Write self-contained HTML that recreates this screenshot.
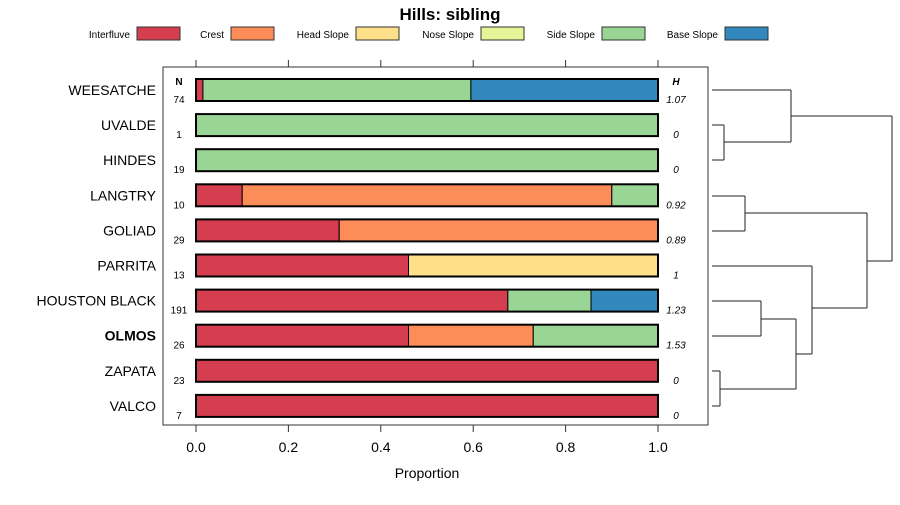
<!DOCTYPE html>
<html><head><meta charset="utf-8"><style>
body{margin:0;background:#fff;font-family:"Liberation Sans",sans-serif}
svg text{font-family:"Liberation Sans",sans-serif}
</style></head><body>
<svg id="c" width="900" height="500" xmlns="http://www.w3.org/2000/svg"></svg>
<script>
const categories=["WEESATCHE","UVALDE","HINDES","LANGTRY","GOLIAD","PARRITA","HOUSTON BLACK","OLMOS","ZAPATA","VALCO"];
const nValues=[74,1,19,10,29,13,191,26,23,7];
const hValues=["1.07","0","0","0.92","0.89","1","1.23","1.53","0","0"];
const seriesNames=["Interfluve","Crest","Head Slope","Nose Slope","Side Slope","Base Slope"];
const colors=["#D53E4F","#FC8D59","#FEE08B","#E6F598","#99D594","#3288BD"];
const interfluve=[0.015,0,0,0.10,0.31,0.46,0.675,0.46,1,1];
const crest=[0,0,0,0.80,0.69,0,0,0.27,0,0];
const headSlope=[0,0,0,0,0,0.54,0,0,0,0];
const noseSlope=[0,0,0,0,0,0,0,0,0,0];
const sideSlope=[0.58,1,1,0.10,0,0,0.18,0.27,0,0];
const baseSlope=[0.405,0,0,0,0,0,0.145,0,0,0];
const xTicks=[0,0.2,0.4,0.6,0.8,1.0];
const xTickLabels=["0.0","0.2","0.4","0.6","0.8","1.0"];
const series=[interfluve,crest,headSlope,noseSlope,sideSlope,baseSlope];
const svg=document.getElementById('c');
const NS="http://www.w3.org/2000/svg";
function el(t,a,txt){const e=document.createElementNS(NS,t);for(const k in a)e.setAttribute(k,a[k]);if(txt!==undefined)e.textContent=txt;svg.appendChild(e);return e;}
const x=v=>196+v*462;
const y=i=>90+i*35.1;
let e=el('text',{x:450,y:20,'text-anchor':'middle','font-size':17,'font-weight':'bold'},'Hills: sibling');


const legX=[130,224,349,474,595,718];
seriesNames.forEach((n,k)=>{
 let t=el('text',{x:legX[k],y:38,'text-anchor':'end','font-size':10},n);
 
 
 let r=el('rect',{x:legX[k]+7,y:27,width:43,height:13,fill:colors[k],stroke:'#333','stroke-width':1});
 
 
});
let box=el('rect',{x:163,y:67,width:545,height:358,fill:'none',stroke:'#333','stroke-width':1});


xTicks.forEach((v,k)=>{
 el('line',{x1:x(v),x2:x(v),y1:60,y2:67,stroke:'#333'});
 el('line',{x1:x(v),x2:x(v),y1:425,y2:432,stroke:'#333'});
 let t=el('text',{x:x(v),y:452,'text-anchor':'middle','font-size':14},xTickLabels[k]);
 
 
});
e=el('text',{x:427,y:478,'text-anchor':'middle','font-size':14},'Proportion');


e=el('text',{x:179,y:85,'text-anchor':'middle','font-size':10,'font-weight':'bold'},'N');


e=el('text',{x:676,y:85,'text-anchor':'middle','font-size':10,'font-weight':'bold','font-style':'italic'},'H');


categories.forEach((c,i)=>{
 const yc=y(i);
 let t=el('text',{x:156,y:yc+5,'text-anchor':'end','font-size':14,'font-weight':c==='OLMOS'?'bold':'normal'},c);
 
 
 t=el('text',{x:179,y:yc+13,'text-anchor':'middle','font-size':10},nValues[i]);
 
 
 t=el('text',{x:676,y:yc+13,'text-anchor':'middle','font-size':10,'font-style':'italic'},hValues[i]);
 
 
 let cum=0;
 series.forEach((s,k)=>{
  const v=s[i]; if(v<=0)return;
  let r=el('rect',{x:x(cum),y:yc-11,width:x(cum+v)-x(cum),height:22,fill:colors[k],stroke:'#000','stroke-width':1});
  
  
  cum+=v;
 });
 let o=el('rect',{x:x(0),y:yc-11,width:x(1)-x(0),height:22,fill:'none',stroke:'#000','stroke-width':2});
 
 
});
// dendrogram
const segs=[[712,90,791,90],[712,125,724,125],[712,160,724,160],[724,125,724,160],[724,142,791,142],[791,90,791,142],[791,116,892,116],
[712,196,745,196],[712,231,745,231],[745,196,745,231],[745,213,867,213],
[712,266,812,266],[712,301,761,301],[712,336,761,336],[761,301,761,336],[761,319,796,319],
[712,371,720,371],[712,406,720,406],[720,371,720,406],[720,389,796,389],[796,319,796,389],[796,354,812,354],[812,266,812,354],[812,308,867,308],[867,213,867,308],[867,261,892,261],[892,116,892,261]];
const g=document.createElementNS(NS,'g');


svg.appendChild(g);
segs.forEach(s=>{const l=document.createElementNS(NS,'line');l.setAttribute('x1',s[0]);l.setAttribute('y1',s[1]);l.setAttribute('x2',s[2]);l.setAttribute('y2',s[3]);l.setAttribute('stroke','#222');l.setAttribute('stroke-width',1);g.appendChild(l);});
</script>
</body></html>
